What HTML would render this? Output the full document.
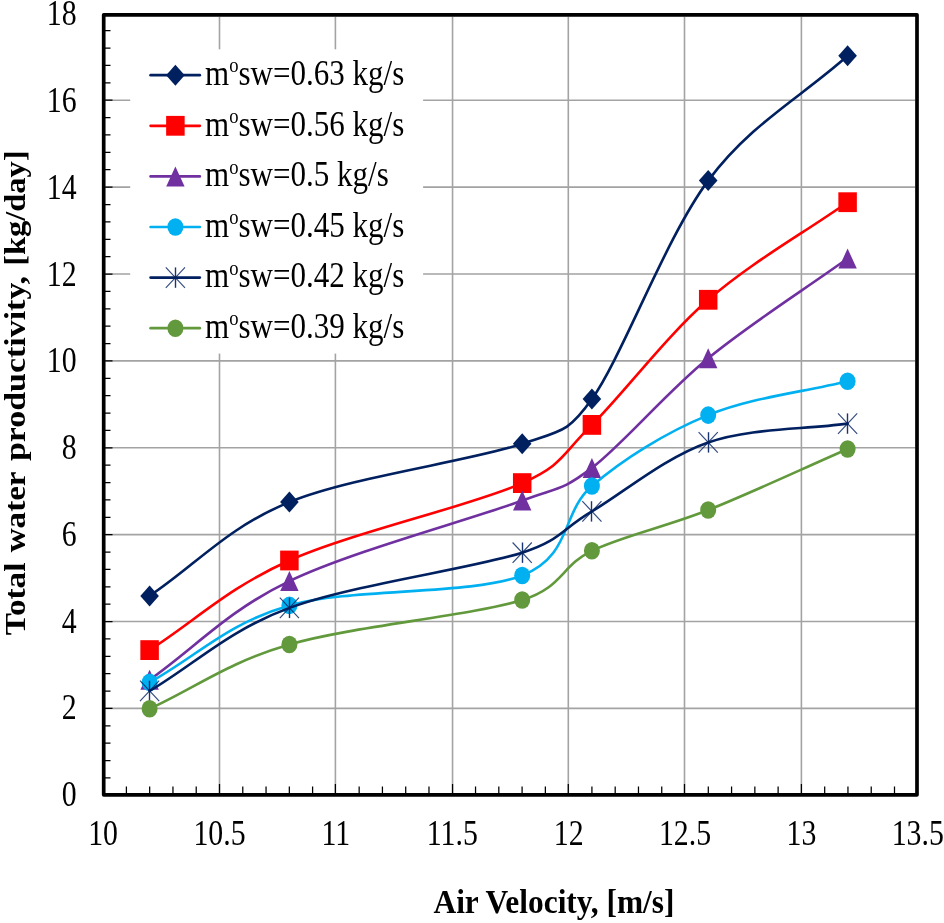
<!DOCTYPE html>
<html><head><meta charset="utf-8"><style>html,body{margin:0;padding:0;background:#fff;}svg{display:block;} text{filter:grayscale(1)}</style></head>
<body><svg width="944" height="923" viewBox="0 0 944 923">
<rect width="944" height="923" fill="#fff"/>
<path d="M105.5 708.40H915.2 M105.5 621.52H915.2 M105.5 534.64H915.2 M105.5 447.76H915.2 M105.5 360.88H915.2 M105.5 274.00H915.2 M105.5 187.12H915.2 M105.5 100.24H915.2 M219.50 16.7V792.9 M335.40 16.7V792.9 M452.55 16.7V792.9 M568.30 16.7V792.9 M684.50 16.7V792.9 M801.40 16.7V792.9" stroke="#A3A3A3" stroke-width="1.6" fill="none"/>
<path d="M105 777.90H110.5 M105 760.53H110.5 M105 743.15H110.5 M105 725.78H110.5 M105 708.40H112.5 M105 691.02H110.5 M105 673.65H110.5 M105 656.27H110.5 M105 638.90H110.5 M105 621.52H112.5 M105 604.14H110.5 M105 586.77H110.5 M105 569.39H110.5 M105 552.02H110.5 M105 534.64H112.5 M105 517.26H110.5 M105 499.89H110.5 M105 482.51H110.5 M105 465.14H110.5 M105 447.76H112.5 M105 430.38H110.5 M105 413.01H110.5 M105 395.63H110.5 M105 378.26H110.5 M105 360.88H112.5 M105 343.50H110.5 M105 326.13H110.5 M105 308.75H110.5 M105 291.38H110.5 M105 274.00H112.5 M105 256.62H110.5 M105 239.25H110.5 M105 221.87H110.5 M105 204.50H110.5 M105 187.12H112.5 M105 169.74H110.5 M105 152.37H110.5 M105 134.99H110.5 M105 117.62H110.5 M105 100.24H112.5 M105 82.86H110.5 M105 65.49H110.5 M105 48.11H110.5 M105 30.74H110.5 M126.40 793V786.6 M149.67 793V786.6 M172.95 793V786.6 M196.22 793V786.6 M219.50 793V784 M242.78 793V786.6 M266.05 793V786.6 M289.33 793V786.6 M312.60 793V786.6 M335.40 793V784 M359.16 793V786.6 M382.43 793V786.6 M405.71 793V786.6 M428.98 793V786.6 M452.55 793V784 M475.54 793V786.6 M498.81 793V786.6 M522.09 793V786.6 M545.36 793V786.6 M568.30 793V784 M591.92 793V786.6 M615.19 793V786.6 M638.47 793V786.6 M661.74 793V786.6 M684.50 793V784 M708.30 793V786.6 M731.57 793V786.6 M754.85 793V786.6 M778.12 793V786.6 M801.40 793V784 M824.68 793V786.6 M847.95 793V786.6 M871.23 793V786.6 M894.50 793V786.6" stroke="#000" stroke-width="1.25" fill="none"/>
<path d="M149.60 595.90 C196.20 564.63 227.30 527.45 289.40 502.10 C351.50 476.75 471.78 460.97 522.20 443.80 C561.39 430.46 568.01 432.91 591.90 399.10 C622.90 355.23 665.58 237.82 708.20 180.60 C750.82 123.38 801.13 97.40 847.60 55.80" stroke="#002060" stroke-width="2.6" fill="none" stroke-linecap="round" stroke-linejoin="round"/>
<path d="M149.60 585.40 L158.90 595.90 L149.60 606.40 L140.30 595.90Z" fill="#002060"/>
<path d="M289.40 491.60 L298.70 502.10 L289.40 512.60 L280.10 502.10Z" fill="#002060"/>
<path d="M522.20 433.30 L531.50 443.80 L522.20 454.30 L512.90 443.80Z" fill="#002060"/>
<path d="M591.90 388.60 L601.20 399.10 L591.90 409.60 L582.60 399.10Z" fill="#002060"/>
<path d="M708.20 170.10 L717.50 180.60 L708.20 191.10 L698.90 180.60Z" fill="#002060"/>
<path d="M847.60 45.30 L856.90 55.80 L847.60 66.30 L838.30 55.80Z" fill="#002060"/>
<path d="M149.60 650.10 C196.20 620.23 227.30 588.33 289.40 560.50 C351.50 532.67 471.78 505.70 522.20 483.10 C563.63 464.53 560.90 455.45 591.90 424.90 C622.90 394.35 665.58 336.92 708.20 299.80 C750.82 262.68 801.13 234.73 847.60 202.20" stroke="#FF0000" stroke-width="2.6" fill="none" stroke-linecap="round" stroke-linejoin="round"/>
<rect x="140.35" y="640.20" width="18.5" height="19.8" fill="#FF0000"/>
<rect x="280.15" y="550.60" width="18.5" height="19.8" fill="#FF0000"/>
<rect x="512.95" y="473.20" width="18.5" height="19.8" fill="#FF0000"/>
<rect x="582.65" y="415.00" width="18.5" height="19.8" fill="#FF0000"/>
<rect x="698.95" y="289.90" width="18.5" height="19.8" fill="#FF0000"/>
<rect x="838.35" y="192.30" width="18.5" height="19.8" fill="#FF0000"/>
<path d="M149.60 679.80 C196.20 646.90 227.30 610.98 289.40 581.10 C351.50 551.22 471.78 519.37 522.20 500.50 C558.23 487.02 561.34 491.28 591.90 467.90 C622.90 444.18 665.58 393.10 708.20 358.20 C750.82 323.30 801.13 291.73 847.60 258.50" stroke="#7030A0" stroke-width="2.6" fill="none" stroke-linecap="round" stroke-linejoin="round"/>
<path d="M149.60 669.80 L158.80 689.80 L140.40 689.80Z" fill="#7030A0"/>
<path d="M289.40 571.10 L298.60 591.10 L280.20 591.10Z" fill="#7030A0"/>
<path d="M522.20 490.50 L531.40 510.50 L513.00 510.50Z" fill="#7030A0"/>
<path d="M591.90 457.90 L601.10 477.90 L582.70 477.90Z" fill="#7030A0"/>
<path d="M708.20 348.20 L717.40 368.20 L699.00 368.20Z" fill="#7030A0"/>
<path d="M847.60 248.50 L856.80 268.50 L838.40 268.50Z" fill="#7030A0"/>
<path d="M149.60 682.40 C196.20 656.73 227.30 623.22 289.40 605.40 C351.50 587.58 471.78 595.40 522.20 575.50 C572.62 555.60 560.90 512.73 591.90 486.00 C622.90 459.27 665.58 432.57 708.20 415.10 C750.82 397.63 801.13 392.50 847.60 381.20" stroke="#00B0F0" stroke-width="2.6" fill="none" stroke-linecap="round" stroke-linejoin="round"/>
<ellipse cx="149.60" cy="682.40" rx="8.0" ry="8.8" fill="#00B0F0"/>
<ellipse cx="289.40" cy="605.40" rx="8.0" ry="8.8" fill="#00B0F0"/>
<ellipse cx="522.20" cy="575.50" rx="8.0" ry="8.8" fill="#00B0F0"/>
<ellipse cx="591.90" cy="486.00" rx="8.0" ry="8.8" fill="#00B0F0"/>
<ellipse cx="708.20" cy="415.10" rx="8.0" ry="8.8" fill="#00B0F0"/>
<ellipse cx="847.60" cy="381.20" rx="8.0" ry="8.8" fill="#00B0F0"/>
<path d="M149.60 690.90 C196.20 663.23 227.30 630.93 289.40 607.90 C351.50 584.87 471.78 568.78 522.20 552.70 C560.79 540.39 560.90 529.78 591.90 511.40 C622.90 493.02 665.58 457.03 708.20 442.40 C750.82 427.77 801.13 429.87 847.60 423.60" stroke="#002060" stroke-width="2.6" fill="none" stroke-linecap="round" stroke-linejoin="round"/>
<path d="M149.50 680.70V701.10" stroke="#002060" stroke-width="1.4" fill="none" opacity="0.9"/><path d="M140.00 680.70L159.20 701.10M159.20 680.70L140.00 701.10" stroke="#002060" stroke-width="1.2" fill="none" opacity="0.8"/>
<path d="M289.50 597.70V618.10" stroke="#002060" stroke-width="1.4" fill="none" opacity="0.9"/><path d="M279.80 597.70L299.00 618.10M299.00 597.70L279.80 618.10" stroke="#002060" stroke-width="1.2" fill="none" opacity="0.8"/>
<path d="M522.50 542.50V562.90" stroke="#002060" stroke-width="1.4" fill="none" opacity="0.9"/><path d="M512.60 542.50L531.80 562.90M531.80 542.50L512.60 562.90" stroke="#002060" stroke-width="1.2" fill="none" opacity="0.8"/>
<path d="M591.50 501.20V521.60" stroke="#002060" stroke-width="1.4" fill="none" opacity="0.9"/><path d="M582.30 501.20L601.50 521.60M601.50 501.20L582.30 521.60" stroke="#002060" stroke-width="1.2" fill="none" opacity="0.8"/>
<path d="M708.50 432.20V452.60" stroke="#002060" stroke-width="1.4" fill="none" opacity="0.9"/><path d="M698.60 432.20L717.80 452.60M717.80 432.20L698.60 452.60" stroke="#002060" stroke-width="1.2" fill="none" opacity="0.8"/>
<path d="M847.50 413.40V433.80" stroke="#002060" stroke-width="1.4" fill="none" opacity="0.9"/><path d="M838.00 413.40L857.20 433.80M857.20 413.40L838.00 433.80" stroke="#002060" stroke-width="1.2" fill="none" opacity="0.8"/>
<path d="M149.60 708.80 C196.20 687.37 227.30 662.63 289.40 644.50 C351.50 626.37 471.78 615.62 522.20 600.00 C562.95 587.38 560.90 565.80 591.90 550.80 C622.90 535.80 665.58 526.97 708.20 510.00 C750.82 493.03 801.13 469.33 847.60 449.00" stroke="#62993C" stroke-width="2.6" fill="none" stroke-linecap="round" stroke-linejoin="round"/>
<ellipse cx="149.60" cy="708.80" rx="8.0" ry="8.8" fill="#62993C"/>
<ellipse cx="289.40" cy="644.50" rx="8.0" ry="8.8" fill="#62993C"/>
<ellipse cx="522.20" cy="600.00" rx="8.0" ry="8.8" fill="#62993C"/>
<ellipse cx="591.90" cy="550.80" rx="8.0" ry="8.8" fill="#62993C"/>
<ellipse cx="708.20" cy="510.00" rx="8.0" ry="8.8" fill="#62993C"/>
<ellipse cx="847.60" cy="449.00" rx="8.0" ry="8.8" fill="#62993C"/>
<rect x="130.2" y="49.3" width="292.9" height="304.3" fill="#fff"/>
<path d="M150.6 75.20H199.8" stroke="#002060" stroke-width="2.7" stroke-linecap="round"/>
<path d="M175.40 64.70 L184.70 75.20 L175.40 85.70 L166.10 75.20Z" fill="#002060"/>
<text x="205" y="85.00" font-family="Liberation Serif" font-size="35.2" transform="translate(205 0) scale(0.882 1) translate(-205 0)">m<tspan font-size="21.12" dy="-12.5">o</tspan><tspan dy="12.5">sw=0.63 kg/s</tspan></text>
<path d="M150.6 125.80H199.8" stroke="#FF0000" stroke-width="2.7" stroke-linecap="round"/>
<rect x="166.15" y="115.90" width="18.5" height="19.8" fill="#FF0000"/>
<text x="205" y="135.60" font-family="Liberation Serif" font-size="35.2" transform="translate(205 0) scale(0.882 1) translate(-205 0)">m<tspan font-size="21.12" dy="-12.5">o</tspan><tspan dy="12.5">sw=0.56 kg/s</tspan></text>
<path d="M150.6 176.40H199.8" stroke="#7030A0" stroke-width="2.7" stroke-linecap="round"/>
<path d="M175.40 166.40 L184.60 186.40 L166.20 186.40Z" fill="#7030A0"/>
<text x="205" y="186.20" font-family="Liberation Serif" font-size="35.2" transform="translate(205 0) scale(0.882 1) translate(-205 0)">m<tspan font-size="21.12" dy="-12.5">o</tspan><tspan dy="12.5">sw=0.5 kg/s</tspan></text>
<path d="M150.6 227.00H199.8" stroke="#00B0F0" stroke-width="2.7" stroke-linecap="round"/>
<ellipse cx="175.40" cy="227.00" rx="8.0" ry="8.8" fill="#00B0F0"/>
<text x="205" y="236.80" font-family="Liberation Serif" font-size="35.2" transform="translate(205 0) scale(0.882 1) translate(-205 0)">m<tspan font-size="21.12" dy="-12.5">o</tspan><tspan dy="12.5">sw=0.45 kg/s</tspan></text>
<path d="M150.6 277.60H199.8" stroke="#002060" stroke-width="2.7" stroke-linecap="round"/>
<path d="M175.50 267.40V287.80" stroke="#002060" stroke-width="1.4" fill="none" opacity="0.9"/><path d="M165.80 267.40L185.00 287.80M185.00 267.40L165.80 287.80" stroke="#002060" stroke-width="1.2" fill="none" opacity="0.8"/>
<text x="205" y="287.40" font-family="Liberation Serif" font-size="35.2" transform="translate(205 0) scale(0.882 1) translate(-205 0)">m<tspan font-size="21.12" dy="-12.5">o</tspan><tspan dy="12.5">sw=0.42 kg/s</tspan></text>
<path d="M150.6 328.20H199.8" stroke="#62993C" stroke-width="2.7" stroke-linecap="round"/>
<ellipse cx="175.40" cy="328.20" rx="8.0" ry="8.8" fill="#62993C"/>
<text x="205" y="338.00" font-family="Liberation Serif" font-size="35.2" transform="translate(205 0) scale(0.882 1) translate(-205 0)">m<tspan font-size="21.12" dy="-12.5">o</tspan><tspan dy="12.5">sw=0.39 kg/s</tspan></text>
<rect x="103.7" y="14.8" width="813.3" height="780" fill="none" stroke="#000" stroke-width="3.7" stroke-linejoin="round"/>
<text x="76.6" y="806.20" font-family="Liberation Serif" font-size="35.6" text-anchor="end" transform="translate(76.6 0) scale(0.838 1) translate(-76.6 0)">0</text>
<text x="76.6" y="719.42" font-family="Liberation Serif" font-size="35.6" text-anchor="end" transform="translate(76.6 0) scale(0.838 1) translate(-76.6 0)">2</text>
<text x="76.6" y="632.64" font-family="Liberation Serif" font-size="35.6" text-anchor="end" transform="translate(76.6 0) scale(0.838 1) translate(-76.6 0)">4</text>
<text x="76.6" y="545.86" font-family="Liberation Serif" font-size="35.6" text-anchor="end" transform="translate(76.6 0) scale(0.838 1) translate(-76.6 0)">6</text>
<text x="76.6" y="459.08" font-family="Liberation Serif" font-size="35.6" text-anchor="end" transform="translate(76.6 0) scale(0.838 1) translate(-76.6 0)">8</text>
<text x="76.6" y="372.30" font-family="Liberation Serif" font-size="35.6" text-anchor="end" transform="translate(76.6 0) scale(0.838 1) translate(-76.6 0)">10</text>
<text x="76.6" y="285.52" font-family="Liberation Serif" font-size="35.6" text-anchor="end" transform="translate(76.6 0) scale(0.838 1) translate(-76.6 0)">12</text>
<text x="76.6" y="198.74" font-family="Liberation Serif" font-size="35.6" text-anchor="end" transform="translate(76.6 0) scale(0.838 1) translate(-76.6 0)">14</text>
<text x="76.6" y="111.96" font-family="Liberation Serif" font-size="35.6" text-anchor="end" transform="translate(76.6 0) scale(0.838 1) translate(-76.6 0)">16</text>
<text x="76.6" y="25.18" font-family="Liberation Serif" font-size="35.6" text-anchor="end" transform="translate(76.6 0) scale(0.838 1) translate(-76.6 0)">18</text>
<text x="103.12" y="845" font-family="Liberation Serif" font-size="35.6" text-anchor="middle" transform="translate(103.12 0) scale(0.838 1) translate(-103.12 0)">10</text>
<text x="219.50" y="845" font-family="Liberation Serif" font-size="35.6" text-anchor="middle" transform="translate(219.50 0) scale(0.838 1) translate(-219.50 0)">10.5</text>
<text x="335.88" y="845" font-family="Liberation Serif" font-size="35.6" text-anchor="middle" transform="translate(335.88 0) scale(0.838 1) translate(-335.88 0)">11</text>
<text x="452.26" y="845" font-family="Liberation Serif" font-size="35.6" text-anchor="middle" transform="translate(452.26 0) scale(0.838 1) translate(-452.26 0)">11.5</text>
<text x="568.64" y="845" font-family="Liberation Serif" font-size="35.6" text-anchor="middle" transform="translate(568.64 0) scale(0.838 1) translate(-568.64 0)">12</text>
<text x="685.02" y="845" font-family="Liberation Serif" font-size="35.6" text-anchor="middle" transform="translate(685.02 0) scale(0.838 1) translate(-685.02 0)">12.5</text>
<text x="801.40" y="845" font-family="Liberation Serif" font-size="35.6" text-anchor="middle" transform="translate(801.40 0) scale(0.838 1) translate(-801.40 0)">13</text>
<text x="917.78" y="845" font-family="Liberation Serif" font-size="35.6" text-anchor="middle" transform="translate(917.78 0) scale(0.838 1) translate(-917.78 0)">13.5</text>
<text x="554" y="913" font-family="Liberation Serif" font-weight="bold" font-size="33.6" text-anchor="middle" transform="translate(554 0) scale(0.935 1) translate(-554 0)">Air Velocity, [m/s]</text>
<text transform="translate(24.7 635.2) rotate(-90) scale(1.005 0.92)" x="0" y="0" font-family="Liberation Serif" font-weight="bold" font-size="33.1">Total</text>
<text transform="translate(24.7 552.3) rotate(-90) scale(1.0 0.92)" x="0" y="0" font-family="Liberation Serif" font-weight="bold" font-size="33.1">water</text>
<text transform="translate(24.7 461.0) rotate(-90) scale(1.025 0.92)" x="0" y="0" font-family="Liberation Serif" font-weight="bold" font-size="33.1">productivity,</text>
<text transform="translate(24.7 265.8) rotate(-90) scale(0.98 0.92)" x="0" y="0" font-family="Liberation Serif" font-weight="bold" font-size="33.1">[kg/day]</text>
</svg></body></html>
